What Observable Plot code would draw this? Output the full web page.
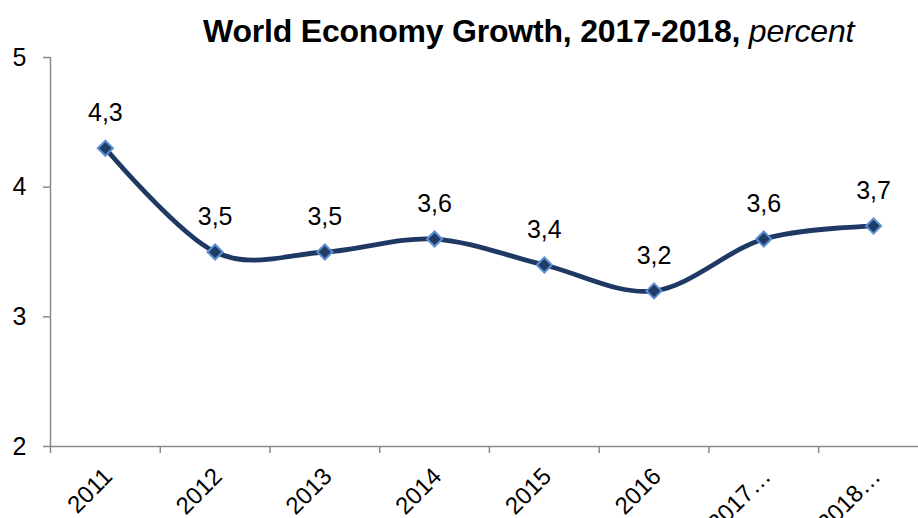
<!DOCTYPE html>
<html>
<head>
<meta charset="utf-8">
<script src="https://cdn.jsdelivr.net/npm/d3@7"></script>
<script src="https://cdn.jsdelivr.net/npm/@observablehq/plot@0.6"></script>
<style>
  html, body { margin: 0; padding: 0; background: #fff; }
  body { width: 918px; height: 518px; overflow: hidden; font-family: "Liberation Sans", Arial, sans-serif; }
  #title { height: 45px; position: relative; }
  #title span { position: absolute; left: 203px; top: 13px; font-size: 32px; font-weight: bold; color: #000; white-space: nowrap; letter-spacing: -0.2px; }
  #title i { font-weight: normal; }
  svg { display: block; }
</style>
</head>
<body>
<div id="title"><span>World Economy Growth, 2017-2018, <i>percent</i></span></div>
<div id="chart"></div>
<script>
const years = ["2011", "2012", "2013", "2014", "2015", "2016", "2017…", "2018…"];
const growth = [4.3, 3.5, 3.5, 3.6, 3.4, 3.2, 3.6, 3.7];
const yTicks = [2, 3, 4, 5];

const data = years.map((year, i) => ({i, year, value: growth[i], label: String(growth[i]).replace(".", ",")}));
const boundaries = years.map((d, i) => i - 0.5);
const xMin = -0.5, xMax = 7.41;

const chart = Plot.plot({
  width: 918,
  height: 473,
  marginLeft: 50,
  marginRight: 0,
  marginTop: 12,
  marginBottom: 72,
  style: {fontFamily: "'Liberation Sans', Arial, sans-serif", background: "#fff", overflow: "visible"},
  x: {type: "linear", domain: [xMin, xMax], axis: null},
  y: {domain: [2, 5], axis: null},
  marks: [
    // axes lines
    Plot.ruleX([xMin], {y1: 2, y2: 5, stroke: "#8a8a8a", strokeWidth: 1.5}),
    Plot.ruleY([2], {x1: xMin, x2: xMax, stroke: "#8a8a8a", strokeWidth: 1.5}),
    // y ticks
    Plot.ruleY(yTicks, {x1: xMin, x2: xMin, insetLeft: -7, stroke: "#8a8a8a", strokeWidth: 1.5}),
    Plot.text(yTicks, {x: xMin, y: d => d, text: d => String(d), dx: -24, textAnchor: "end", fontSize: 25, fill: "#000"}),
    // x ticks at category boundaries
    Plot.ruleX(boundaries, {x: d => d, y1: 2, y2: 2, insetBottom: -7, stroke: "#8a8a8a", strokeWidth: 1.5}),
    Plot.text(data, {x: "i", y: 2, text: "year", rotate: -45, textAnchor: "end", dx: 3, dy: 26, fontSize: 24, fill: "#000"}),
    // line
    Plot.line(data, {x: "i", y: "value", curve: "cardinal", stroke: "#1F3864", strokeWidth: 4.8}),
    Plot.dot(data, {x: "i", y: "value", symbol: "diamond2", r: 6.8, fill: "#1F3B66", stroke: "#5B8FD0", strokeWidth: 2}),
    // data labels
    Plot.text(data, {x: "i", y: "value", text: "label", dy: -35, fontSize: 25, fill: "#000"})
  ]
});
document.getElementById("chart").appendChild(chart);
</script>
</body>
</html>
